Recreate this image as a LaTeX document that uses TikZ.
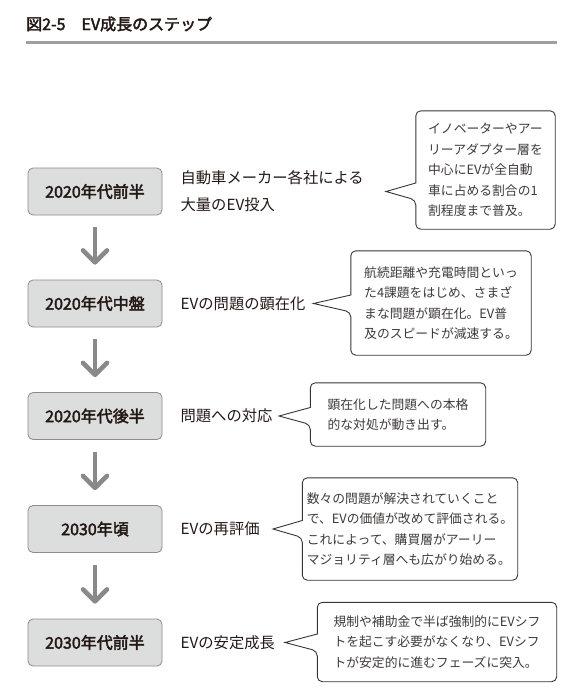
\documentclass[tikz,border=0pt]{standalone}
\usepackage{fontspec}
\setmainfont{Noto Sans CJK JP}
\newfontfamily\medfont{Noto Sans CJK JP}[FakeBold=2.6]
\usepackage{tikz}
\usetikzlibrary{positioning}
\usetikzlibrary{arrows.meta}
\usetikzlibrary{calc}
\definecolor{inkgray}{HTML}{231815}
\definecolor{boxgray}{HTML}{DCDDDD}
\definecolor{edgegray}{HTML}{8C8C8C}
\definecolor{arrowgray}{HTML}{898989}
\definecolor{notegray}{HTML}{3E3A39}
\definecolor{rulegray}{HTML}{9FA0A0}

\begin{document}
\begin{tikzpicture}[x=1pt,y=-1pt]
        \useasboundingbox (0,0) rectangle (565,691);
        % title and rule
        \node[anchor=west, inner sep=0, text=inkgray, font=\fontsize{16}{20}\selectfont\medfont] (title) at (26,24) {図2-5　EV成長のステップ};
        \coordinate (ruleL) at (26,42);
        \coordinate (ruleR) at (557,42);
        \draw[rulegray, line width=3pt] (ruleL) -- (ruleR);
        % stages
        \begin{scope}[every node/.style={fill=boxgray, draw=edgegray, line width=0.8pt, rounded corners=5pt,
                      minimum width=134pt, minimum height=47pt, text=inkgray, font=\fontsize{16}{20}\selectfont\medfont}]
            \node (s1) at (95,191.5) {2020年代前半};
            \node (s2) at (95,303.5) {2020年代中盤};
            \node (s3) at (95,416) {2020年代後半};
            \node (s4) at (95,529) {2030年頃};
            \node (s5) at (95,642.5) {2030年代前半};
        \end{scope}
        \begin{scope}[>={Straight Barb[length=12pt,width=24pt,round]},
                      every edge/.style={draw=arrowgray, line width=4.5pt, shorten <=12pt, shorten >=15pt}]
             \path [->] (s1) edge (s2);
             \path [->] (s2) edge (s3);
             \path [->] (s3) edge (s4);
             \path [->] (s4) edge (s5);
        \end{scope}
        % labels
        \begin{scope}[every node/.style={anchor=west, inner sep=0, align=left, text=inkgray, font=\fontsize{15.3}{27}\selectfont}]
            \node (l1) [right=18pt of s1] {自動車メーカー各社による\\大量のEV投入};
            \node (l2) [right=18pt of s2] {EVの問題の顕在化};
            \node (l3) [right=18pt of s3] {問題への対応};
            \node (l4) [right=18pt of s4] {EVの再評価};
            \node (l5) [right=18pt of s5] {EVの安定成長};
        \end{scope}
        % notes
        \begin{scope}[every node/.style={inner sep=0, align=left, text=notegray, font=\fontsize{12.8}{20.5}\selectfont}]
            \node[minimum width=139pt, minimum height=118pt] (n1) at (485.5,170) {イノベーターやアー\\リーアダプター層を\\中心にEVが全自動\\車に占める割合の1\\割程度まで普及。};
            \node[minimum width=180pt, minimum height=104pt] (n2) at (441,303) {航続距離や充電時間といっ\\た4課題をはじめ、さまざ\\まな問題が顕在化。EV普\\及のスピードが減速する。};
            \node[minimum width=175pt, minimum height=63pt] (n3) at (398,414.5) {顕在化した問題への本格\\的な対処が動き出す。};
            \node[minimum width=215pt, minimum height=102pt] (n4) at (410,529) {数々の問題が解決されていくこと\\で、EVの価値が改めて評価される。\\これによって、購買層がアーリー\\マジョリティ層へも広がり始める。};
            \node[minimum width=239pt, minimum height=79pt] (n5) at (437,642) {規制や補助金で半ば強制的にEVシフ\\トを起こす必要がなくなり、EVシフ\\トが安定的に進むフェーズに突入。};
        \end{scope}
        \coordinate (t1) at (386,191.5);
        \coordinate (t2) at (313.5,303.5);
        \coordinate (t3) at (279,416);
        \coordinate (t4) at (273,529);
        \coordinate (t5) at (285,642.5);
        \foreach \n in {1,...,5} {
            \coordinate (b\n) at (n\n.west |- t\n);
            \draw[notegray!90!black, line width=0.9pt] ($(b\n)+(0,-8.5)$) [rounded corners=5pt] -- (n\n.north west) -- (n\n.north east)
                -- (n\n.south east) -- (n\n.south west) -- ($(b\n)+(0,8.5)$) [sharp corners] -- (t\n) -- cycle;
        }
\end{tikzpicture}
\end{document}
